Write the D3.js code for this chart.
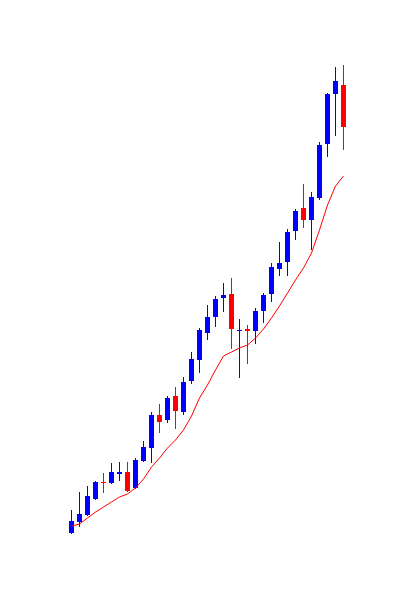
<!DOCTYPE html>
<html>
<head>
<meta charset="utf-8">
<script src="https://cdn.jsdelivr.net/npm/d3@7"></script>
<style>
  html, body { margin: 0; padding: 0; background: #fff; }
  svg { display: block; }
</style>
</head>
<body>
<div class="chart"></div>
<script>
// candle values (price units)
var open  = [6.7, 7.8, 8.5, 10.1, 11.8, 11.7, 12.6, 12.8, 11.2, 13.9, 15.2, 18.5, 18.0, 20.4, 18.8, 21.9, 24.0, 26.7,
             28.3, 30.2, 30.6, 26.9, 27.1, 26.9, 28.9, 30.6, 33.1, 33.8, 36.9, 39.2, 38.0, 40.2, 45.6, 50.6, 51.5];
var high  = [9.0, 10.8, 11.4, 11.9, 12.7, 13.7, 13.8, 13.8, 14.2, 15.9, 18.8, 19.6, 20.4, 21.3, 22.3, 24.8, 27.2, 29.5,
             30.4, 31.7, 32.2, 28.1, 27.5, 29.2, 30.7, 33.7, 35.8, 37.1, 39.1, 41.6, 40.8, 45.8, 50.7, 53.3, 53.5];
var low   = [6.6, 7.3, 8.4, 10.0, 10.7, 11.6, 11.9, 10.8, 11.1, 13.8, 13.7, 16.7, 17.7, 17.1, 18.5, 21.6, 22.7, 26.0,
             27.3, 28.8, 25.1, 22.2, 23.6, 25.6, 27.7, 29.8, 32.4, 32.4, 36.0, 37.2, 35.0, 40.0, 44.3, 46.4, 45.0];
var close = [7.9, 8.6, 10.4, 11.8, 11.7, 12.8, 12.8, 10.9, 14.0, 15.3, 18.5, 17.8, 20.2, 18.9, 21.8, 24.1, 27.0, 28.3,
             30.1, 30.5, 27.1, 27.0, 26.9, 28.9, 30.5, 33.3, 33.7, 36.8, 38.9, 38.0, 40.3, 45.5, 50.6, 51.9, 47.3];
// moving average line
var ma    = [7.4, 7.6, 8.2, 8.8, 9.3, 9.8, 10.3, 10.6, 11.2, 12.1, 13.3, 14.2, 15.2, 16.0, 17.0, 18.4, 20.2, 21.5,
             23.0, 24.4, 24.8, 25.2, 25.5, 26.2, 27.1, 28.2, 29.4, 30.7, 32.0, 33.2, 34.7, 37.0, 39.5, 41.4, 42.4];

var W = 409, H = 604;
var upColor = "#0000ff", downColor = "#ff0000";

var data = open.map(function(d, i){
    return { i: i, o: open[i], h: high[i], l: low[i], c: close[i], ma: ma[i] };
});

var svg = d3.select(".chart").append("svg")
    .attr("width", W)
    .attr("height", H);

svg.append("rect").attr("width", W).attr("height", H).attr("fill", "#fff");

var x = d3.scaleBand()
    .domain(data.map(function(d){ return d.i; }))
    .range([67.5, 347.5])
    .paddingInner(0.375)
    .paddingOuter(0.1875);

var y = d3.scaleLinear()
    .domain([0, 60])
    .range([600, 0]);

function cx(d){ return Math.floor(x(d.i) + x.bandwidth() / 2) + 0.5; }

// wicks
svg.append("g").selectAll("line")
    .data(data)
    .enter().append("line")
    .attr("x1", cx)
    .attr("x2", cx)
    .attr("y1", function(d){ return y(d.h); })
    .attr("y2", function(d){ return y(d.l); })
    .attr("stroke", function(d){ return d.c >= d.o ? upColor : downColor; })
    .attr("stroke-width", 1)
    .attr("shape-rendering", "crispEdges");

// bodies
svg.append("g").selectAll("rect")
    .data(data)
    .enter().append("rect")
    .attr("x", function(d){ return Math.round(x(d.i)); })
    .attr("width", Math.round(x.bandwidth()))
    .attr("y", function(d){ return Math.round(y(Math.max(d.o, d.c))); })
    .attr("height", function(d){ return Math.max(1, Math.round(Math.abs(y(d.o) - y(d.c)))); })
    .attr("fill", function(d){ return d.c >= d.o ? upColor : downColor; })
    .attr("shape-rendering", "crispEdges");

// moving average
var line = d3.line()
    .x(function(d){ return x(d.i) + x.bandwidth() / 2; })
    .y(function(d){ return y(d.ma); });

svg.append("path")
    .datum(data)
    .attr("d", line)
    .attr("fill", "none")
    .attr("stroke", downColor)
    .attr("stroke-width", 1);
</script>
</body>
</html>
